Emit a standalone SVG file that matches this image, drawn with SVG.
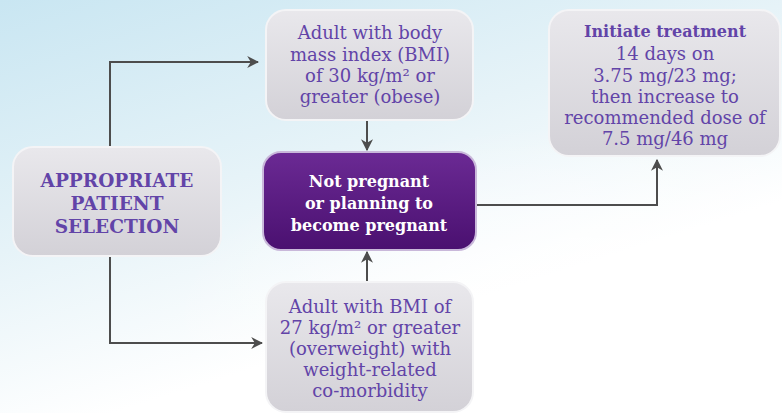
<svg xmlns="http://www.w3.org/2000/svg" width="782" height="413" viewBox="0 0 782 413">
<defs>
<linearGradient id="sky" x1="0" y1="0" x2="0.6" y2="1">
<stop offset="0" stop-color="#c9e6f2"/>
<stop offset="0.45" stop-color="#e6f3f8"/>
<stop offset="0.8" stop-color="#ffffff"/>
</linearGradient>
<radialGradient id="glow" cx="0.75" cy="0.85" r="0.55">
<stop offset="0" stop-color="#ffffff" stop-opacity="1"/>
<stop offset="1" stop-color="#ffffff" stop-opacity="0"/>
</radialGradient>
<linearGradient id="grey" x1="0" y1="0" x2="0" y2="1">
<stop offset="0" stop-color="#e9e8ec"/>
<stop offset="1" stop-color="#d3d1d7"/>
</linearGradient>
<linearGradient id="purple" x1="0" y1="0" x2="0" y2="1">
<stop offset="0" stop-color="#6b2a94"/>
<stop offset="1" stop-color="#4a1070"/>
</linearGradient>
<marker id="arr" viewBox="0 0 10 10" refX="9" refY="5" markerWidth="6" markerHeight="6" orient="auto" markerUnits="strokeWidth">
<path d="M0,0 L10,5 L0,10 L3,5 Z" fill="#4d4d4d"/>
</marker>
<style>
.box{fill:url(#grey);stroke:#f4f4f6;stroke-width:2}
.pbox{fill:url(#purple);stroke:#c9b8da;stroke-width:2}
.t{font-family:"DejaVu Serif","Liberation Serif",serif;font-size:18px;fill:#6244a8;text-anchor:middle}
.b{font-weight:bold;font-size:16px}
.bl{font-weight:bold;font-size:18.5px}
.w{fill:#ffffff;font-weight:bold;font-size:16px}
.c{fill:none;stroke:#4d4d4d;stroke-width:2;marker-end:url(#arr)}
</style>
</defs>
<rect width="782" height="413" fill="url(#sky)"/>
<rect width="782" height="413" fill="url(#glow)"/>

<g id="connectors">
<path class="c" d="M110,147 V62 H258"/>
<path class="c" d="M110,256 V343 H262"/>
<path class="c" d="M367,121 V150"/>
<path class="c" d="M367,282 V252"/>
<path class="c" d="M476,205 H657 V160"/>
</g>

<g id="selection">
<rect class="box" x="13" y="147" width="208" height="109" rx="20"/>
<text class="t bl" x="117" y="187">APPROPRIATE</text>
<text class="t bl" x="117" y="210">PATIENT</text>
<text class="t bl" x="117" y="233">SELECTION</text>
</g>

<g id="obese">
<rect class="box" x="266" y="10" width="207" height="110" rx="20"/>
<text class="t" x="370" y="39">Adult with body</text>
<text class="t" x="370" y="61">mass index (BMI)</text>
<text class="t" x="370" y="82">of 30 kg/m² or</text>
<text class="t" x="370" y="103">greater (obese)</text>
</g>

<g id="pregnant">
<rect class="pbox" x="263" y="152" width="213" height="98" rx="18"/>
<text class="t w" x="369" y="187">Not pregnant</text>
<text class="t w" x="369" y="209">or planning to</text>
<text class="t w" x="369" y="231">become pregnant</text>
</g>

<g id="overweight">
<rect class="box" x="266" y="282" width="207" height="130" rx="20"/>
<text class="t" x="370" y="313">Adult with BMI of</text>
<text class="t" x="370" y="334">27 kg/m² or greater</text>
<text class="t" x="370" y="355">(overweight) with</text>
<text class="t" x="370" y="376">weight-related</text>
<text class="t" x="370" y="397">co-morbidity</text>
</g>

<g id="treatment">
<rect class="box" x="549" y="10" width="231" height="146" rx="20"/>
<text class="t b" x="665" y="37">Initiate treatment</text>
<text class="t" x="665" y="60">14 days on</text>
<text class="t" x="665" y="82">3.75 mg/23 mg;</text>
<text class="t" x="665" y="103">then increase to</text>
<text class="t" x="665" y="124">recommended dose of</text>
<text class="t" x="665" y="145">7.5 mg/46 mg</text>
</g>
</svg>
